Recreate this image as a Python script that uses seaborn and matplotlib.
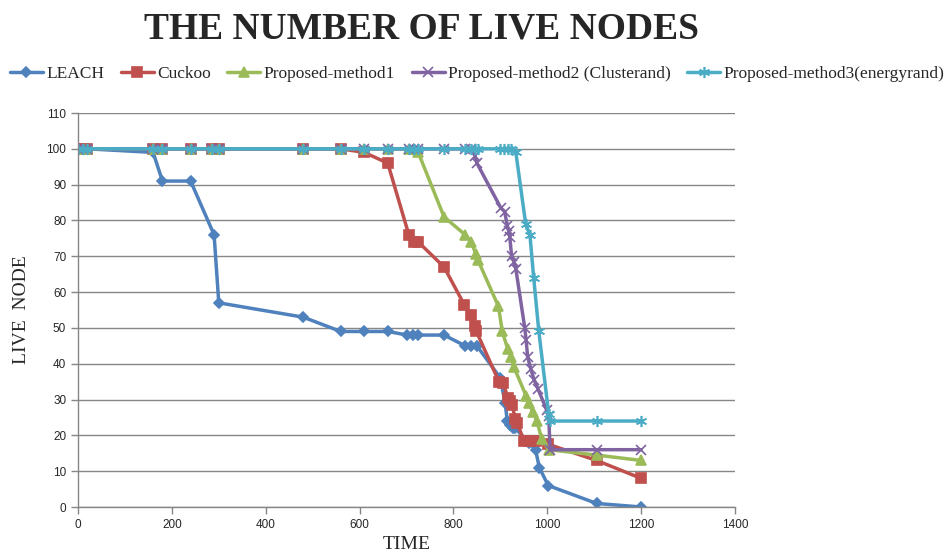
import numpy as np
import matplotlib
matplotlib.use("Agg")
import matplotlib.pyplot as plt
import pandas as pd
import seaborn as sns

# values
leach_t = [0, 10, 20, 160, 180, 240, 290, 300, 480, 560, 610, 660, 702, 714, 724, 780,
           825, 838, 850, 900, 910, 915, 920, 926, 932, 960, 975, 983, 1002, 1105, 1200]
leach_n = [100, 100, 100, 99, 91, 91, 76, 57, 53, 49, 49, 49, 48, 48, 48, 48,
           45, 45, 45, 36, 29, 24, 23, 22, 22, 18, 16, 11, 6, 1, 0]

cuckoo_t = [0, 10, 20, 160, 180, 240, 285, 300, 480, 560, 610, 660, 705, 715, 725, 780,
            823, 838, 847, 849, 897, 905, 917, 921, 925, 932, 936, 950, 962, 975, 1002, 1105, 1200]
cuckoo_n = [100, 100, 100, 100, 100, 100, 100, 100, 100, 100, 99, 96, 76, 74, 74, 67,
            56.5, 53.5, 50.5, 49, 35, 34.5, 30.5, 29.5, 28.5, 24.5, 23.5, 18.5, 18.5, 18.5, 17.5, 13, 8]

pm1_t = [0, 10, 20, 160, 180, 240, 285, 300, 480, 560, 610, 660, 705, 715, 725, 780,
         825, 838, 848, 852, 896, 904, 916, 923, 929, 955, 961, 969, 978, 988, 1003, 1105, 1200]
pm1_n = [100, 100, 100, 100, 100, 100, 100, 100, 100, 100, 100, 100, 100, 100, 99, 81,
         76, 74, 70.5, 69, 56, 49, 44, 42, 39, 31, 29, 26.5, 24, 19, 16, 14.5, 13]

pm2_t = [0, 10, 20, 160, 180, 240, 285, 300, 480, 560, 610, 660, 705, 715, 725, 780,
         825, 838, 846, 850, 901, 909, 915, 918, 920, 924, 929, 933,
         952, 955, 958, 965, 972, 980, 999, 1003, 1006, 1105, 1200]
pm2_n = [100, 100, 100, 100, 100, 100, 100, 100, 100, 100, 100, 100, 100, 100, 100, 100,
         100, 100, 98, 96, 83.5, 82.5, 78.5, 77, 75.5, 70, 68.5, 66.5,
         50, 46.5, 42, 38.5, 35.5, 33, 27, 25.5, 16, 16, 16]

pm3_t = [0, 10, 20, 160, 180, 240, 285, 300, 480, 560, 610, 660, 705, 715, 725, 780,
         825, 838, 845, 852, 900, 908, 916, 923, 933, 954, 963, 971, 982, 1003, 1006, 1105, 1200]
pm3_n = [100, 100, 100, 100, 100, 100, 100, 100, 100, 100, 100, 100, 100, 100, 100, 100,
         100, 100, 100, 100, 100, 100, 100, 100, 99, 79, 76, 64, 49, 26, 24, 24, 24]

series = [
    ("LEACH", leach_t, leach_n, "#4F81BD", "D", 5.5),
    ("Cuckoo", cuckoo_t, cuckoo_n, "#C0504D", "s", 7),
    ("Proposed-method1", pm1_t, pm1_n, "#9BBB59", "^", 7),
    ("Proposed-method2 (Clusterand)", pm2_t, pm2_n, "#8064A2", "x", 7),
    ("Proposed-method3(energyrand)", pm3_t, pm3_n, "#4BACC6", (6, 2, 0), 8),
]

sns.set_style("white")
serif = ["Liberation Serif", "DejaVu Serif"]

fig = plt.figure(figsize=(9.52, 5.52), dpi=100)
ax = fig.add_axes([78 / 952, 45 / 552, 657 / 952, 394 / 552])

for name, t, n, col, mk, ms in series:
    df = pd.DataFrame({"t": t, "n": n})
    sns.lineplot(data=df, x="t", y="n", ax=ax, color=col, marker=mk, markersize=ms,
                 markeredgecolor=col, markeredgewidth=1.2, linewidth=2.5,
                 sort=False, estimator=None, label=name)

ax.set_xlim(0, 1400)
ax.set_ylim(0, 110)
ax.set_xticks(np.arange(0, 1401, 200))
ax.set_yticks(np.arange(0, 111, 10))
ax.yaxis.grid(True, color="#868686", linewidth=1)
ax.xaxis.grid(False)
for s in ["top", "right"]:
    ax.spines[s].set_visible(False)
for s in ["left", "bottom"]:
    ax.spines[s].set_color("#868686")
    ax.spines[s].set_linewidth(1)
ax.tick_params(axis="both", which="both", direction="out", length=5, width=1,
               color="#868686", labelsize=8.5, left=True, bottom=True)
for lab in ax.get_xticklabels() + ax.get_yticklabels():
    lab.set_family(["Liberation Sans Narrow", "Liberation Sans", "DejaVu Sans"])

ax.set_xlabel("TIME", family=serif, fontsize=14, labelpad=4)
ax.set_ylabel("LIVE  NODE", family=serif, fontsize=14, labelpad=12)

handles, labels = ax.get_legend_handles_labels()
ax.get_legend().remove()
fig.legend(handles, labels, loc="center left", bbox_to_anchor=(0.003, 0.866), ncol=5,
           frameon=False, prop={"family": serif, "size": 12.5}, handlelength=1.9,
           handletextpad=0.2, columnspacing=0.95, borderaxespad=0)

fig.text(421 / 952, 0.948, "THE NUMBER OF LIVE NODES", ha="center", va="center",
         family=serif, fontsize=27, fontweight="bold")

fig.savefig("out.png", dpi=100)
